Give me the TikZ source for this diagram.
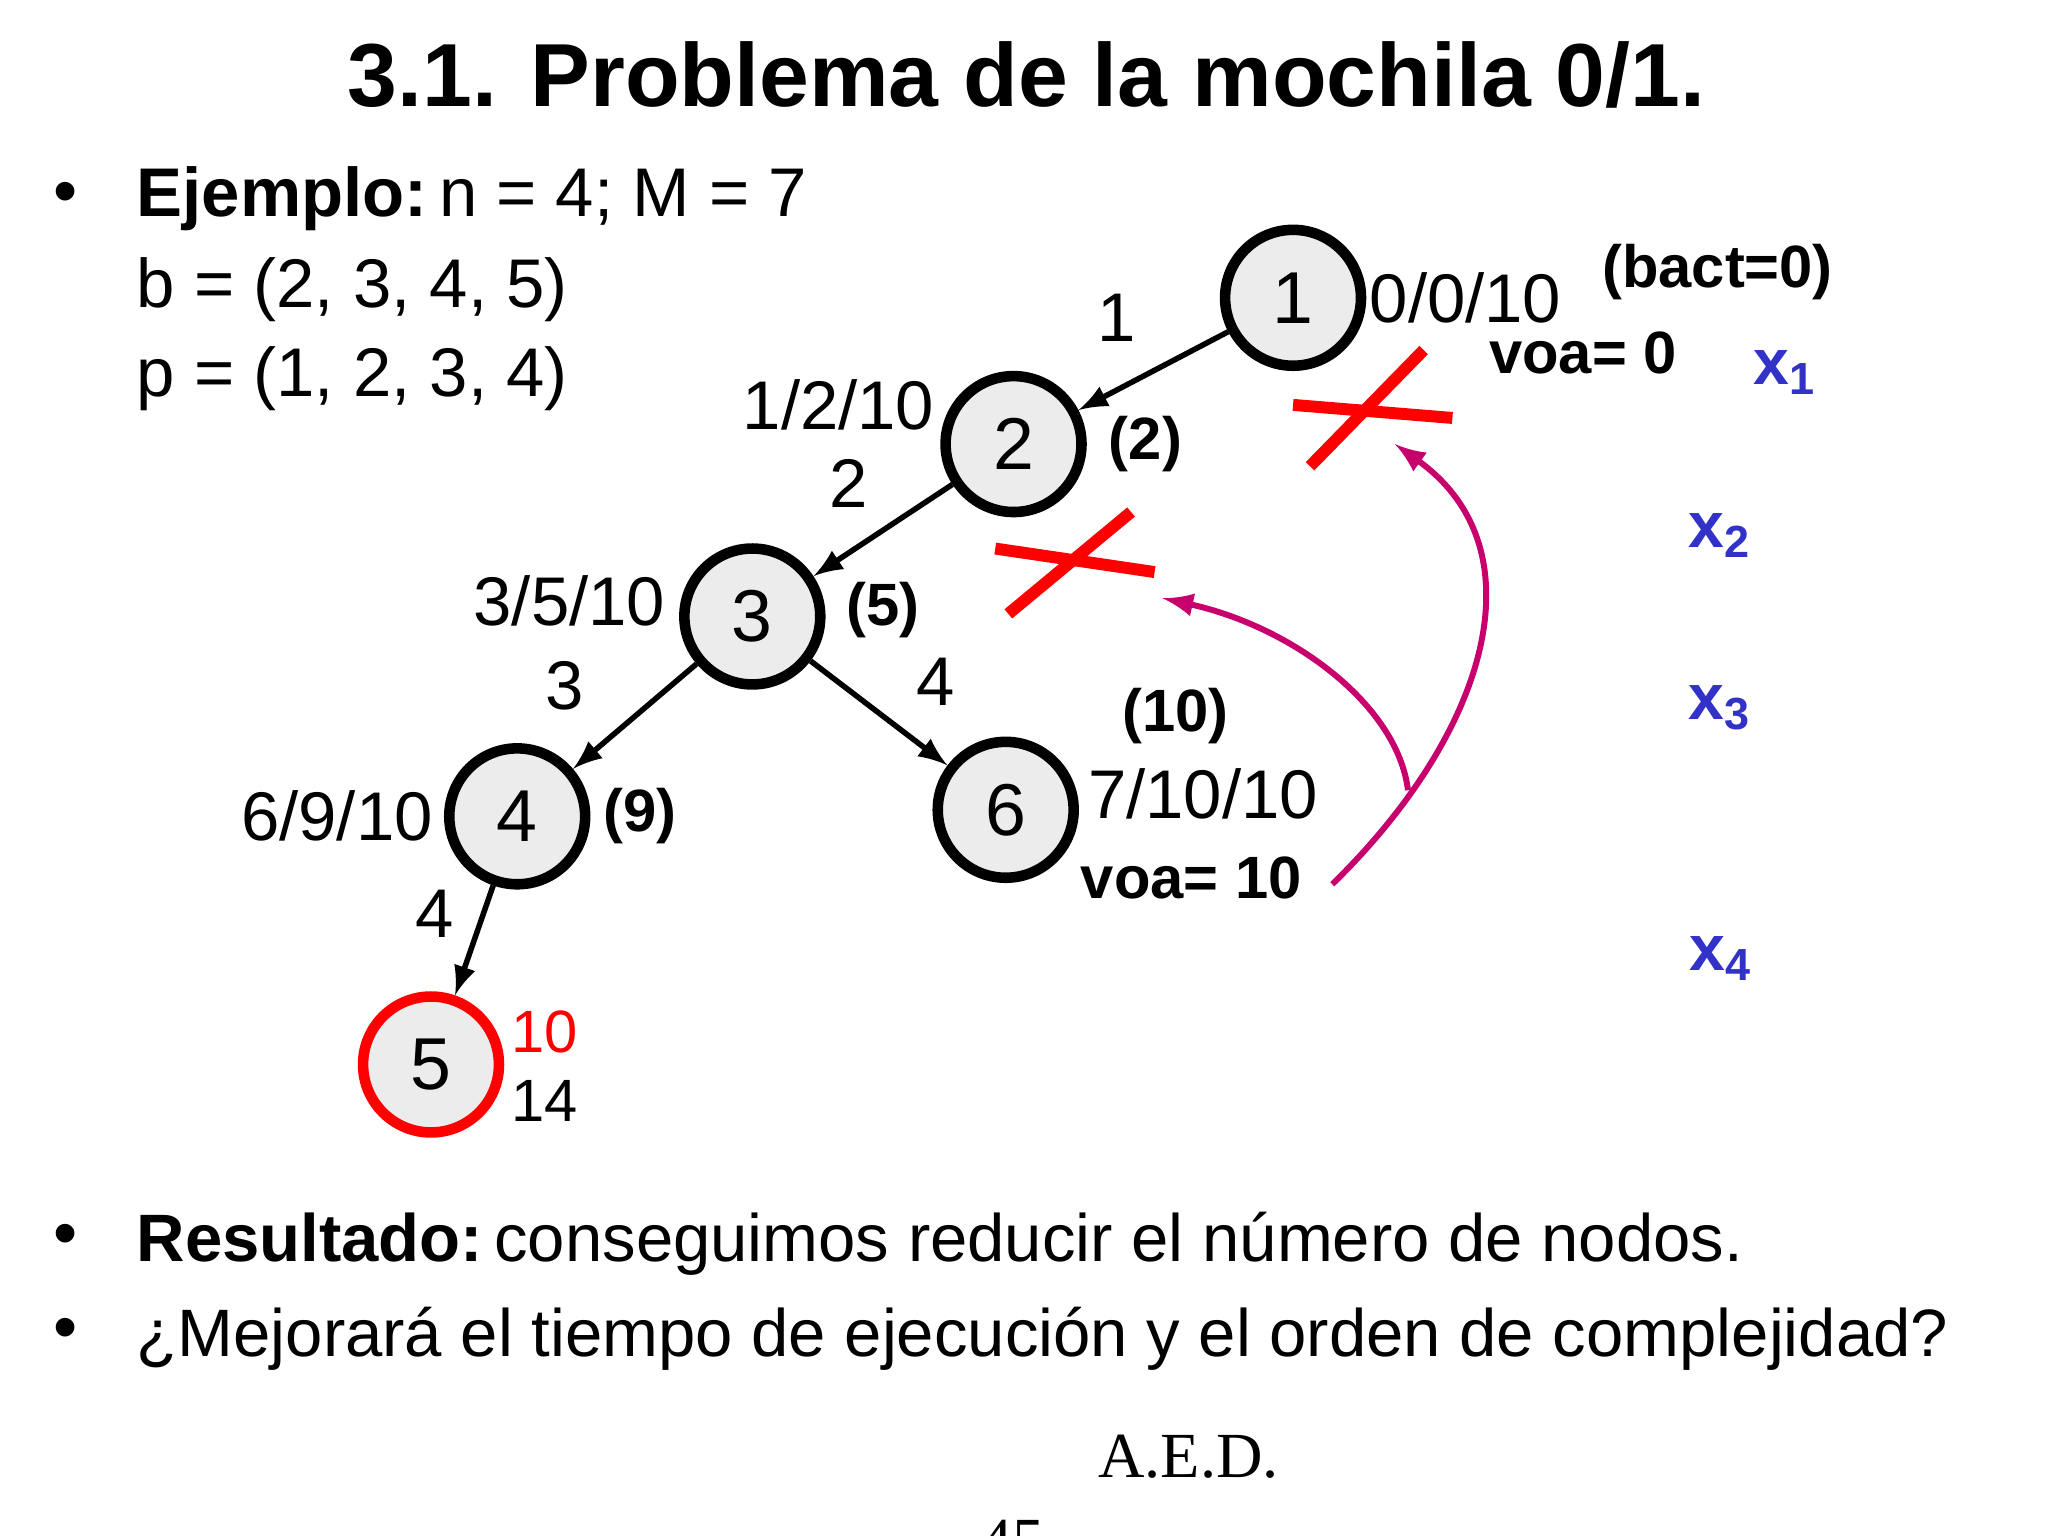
\documentclass[tikz,border=0pt]{standalone}
\usepackage{fontspec}
\setmainfont{Liberation Sans}
\newfontfamily\serifx{Liberation Serif}
\begin{document}
\begin{tikzpicture}[x=0.01cm,y=-0.01cm,
  tn/.style={circle,draw=black,line width=2.3pt,fill=gray!15,minimum size=1.04cm,inner sep=0pt,font=\fontsize{16}{18}\selectfont},
  lb/.style={font=\fontsize{15}{18}\selectfont,inner sep=0pt},
  bl/.style={font=\fontsize{13}{16}\selectfont\bfseries,inner sep=0pt},
  xl/.style={font=\fontsize{14}{16}\selectfont\bfseries,text={rgb,255:red,50;green,50;blue,200},inner sep=0pt},
  ed/.style={-latex,line width=1.2pt},
  rx/.style={red,line width=2.6pt},
  mg/.style={-latex,line width=1.3pt,draw={rgb,255:red,200;green,0;blue,110}},
  bt/.style={font=\fontsize{15}{18}\selectfont,anchor=west,inner sep=0pt}]
\useasboundingbox[fill=white] (0,0) rectangle (1568,1176);
\node[font=\fontsize{19.5}{24}\selectfont\bfseries] (title) at (786,57) {3.1. Problema de la mochila 0/1.};
\node[bt] (b1) at (40,152) {•};
\node[bt] (t1) at (104,152) {\textbf{Ejemplo:}\,n = 4; M = 7};
\node[bt] (t2) at (104,222) {b = (2, 3, 4, 5)};
\node[bt] (t3) at (104,290) {p = (1, 2, 3, 4)};
\node[tn] (n1) at (990,228) {1};
\node[tn] (n2) at (776,340) {2};
\node[tn] (n3) at (576,472) {3};
\node[tn] (n4) at (396,625) {4};
\node[tn,draw=red] (n5) at (330,815) {5};
\node[tn] (n6) at (770,620) {6};
\draw[ed] (n1) -- (n2); \draw[ed] (n2) -- (n3); \draw[ed] (n3) -- (n4);
\draw[ed] (n4) -- (n5); \draw[ed] (n3) -- (n6);
\node[lb] (e1) at (855,243) {1};
\node[lb] (e2) at (650,370) {2};
\node[lb] (e3) at (432,525) {3};
\node[lb] (e4) at (716,522) {4};
\node[lb] (e5) at (333,700) {4};
\node[lb] (l1) at (1122,228) {0/0/10};
\node[bl] (l1b) at (1315,208) {(bact=0)};
\node[bl] (l1c) at (1212,270) {voa= 0};
\node[lb] (l2) at (642,310) {1/2/10};
\node[bl] (l2b) at (877,340) {(2)};
\node[lb] (l3) at (436,460) {3/5/10};
\node[bl] (l3b) at (676,467) {(5)};
\node[lb] (l4) at (258,625) {6/9/10};
\node[bl] (l4b) at (490,625) {(9)};
\node[bl] (l6a) at (900,548) {(10)};
\node[lb] (l6b) at (921,608) {7/10/10};
\node[bl] (l6c) at (912,672) {voa= 10};
\node[lb,red,font=\fontsize{13}{16}\selectfont] (l5a) at (417,790) {10};
\node[lb,font=\fontsize{13}{16}\selectfont] (l5b) at (417,843) {14};
\node[xl] (x1) at (1367,285) {x\textsubscript{1}};
\node[xl] (x2) at (1317,410) {x\textsubscript{2}};
\node[xl] (x3) at (1317,542) {x\textsubscript{3}};
\node[xl] (x4) at (1318,734) {x\textsubscript{4}};
\draw[rx] (990,310) -- (1112,320); \draw[rx] (1003,357) -- (1090,268);
\draw[rx] (762,420) -- (884,438); \draw[rx] (772,470) -- (866,392);
\coordinate (ms) at (1020,677);
\coordinate (mt) at (1068,340);
\coordinate (mb) at (1078,605);
\coordinate (mt2) at (890,458);
\draw[mg] (ms) .. controls (1140,560) and (1180,420) .. (mt);
\draw[mg] (mb) .. controls (1070,540) and (990,480) .. (mt2);
\node[bt] (b2) at (40,950) {•};
\node[bt,font=\fontsize{14.6}{18}\selectfont] (t4) at (104,952) {\textbf{Resultado:}\,conseguimos reducir el número de nodos.};
\node[bt] (b3) at (40,1022) {•};
\node[bt,font=\fontsize{14.6}{18}\selectfont] (t5) at (104,1025) {¿Mejorará el tiempo de ejecución y el orden de complejidad?};
\node[font=\serifx\fontsize{14}{16}\selectfont] (aed) at (910,1115) {A.E.D.};
\node[font=\serifx\fontsize{14}{16}\selectfont] (pg) at (775,1180) {45};
\end{tikzpicture}
\end{document}
